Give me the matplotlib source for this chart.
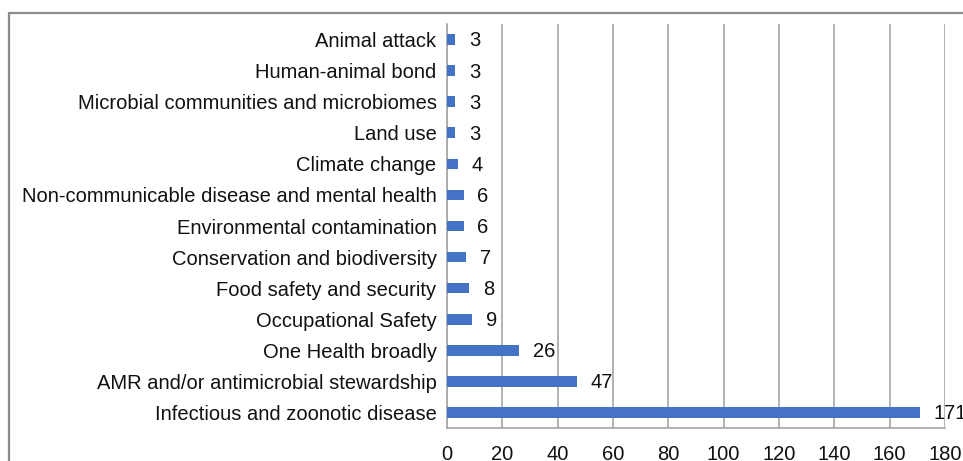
import matplotlib.pyplot as plt
from matplotlib.patches import Rectangle

plt.rcParams['font.family'] = ['Liberation Sans', 'DejaVu Sans']

topics = [
    'Infectious and zoonotic disease',
    'AMR and/or antimicrobial stewardship',
    'One Health broadly',
    'Occupational Safety',
    'Food safety and security',
    'Conservation and biodiversity',
    'Environmental contamination',
    'Non-communicable disease and mental health',
    'Climate change',
    'Land use',
    'Microbial communities and microbiomes',
    'Human-animal bond',
    'Animal attack',
]
counts = [171, 47, 26, 9, 8, 7, 6, 6, 4, 3, 3, 3, 3]
xticks = [0, 20, 40, 60, 80, 100, 120, 140, 160, 180]

W, H = 963, 461
fig = plt.figure(figsize=(W / 100, H / 100), dpi=100)
ax = fig.add_axes([447 / W, 1 - 428 / H, (945 - 447) / W, (428 - 24) / H])

pos = list(range(len(topics)))
ax.barh(pos, counts, height=0.34, color='#4472C4', zorder=3)
for y, v in zip(pos, counts):
    ax.annotate(str(v), (v, y), xytext=(10, -1), textcoords='offset points',
                va='center', ha='left', fontsize=14.5, color='#111111',
                annotation_clip=False)

ax.set_xlim(0, 180)
ax.set_ylim(-0.5, len(topics) - 0.5)
ax.set_xticks(xticks)
ax.set_yticks(pos)
ax.set_yticklabels(topics)
ax.tick_params(axis='both', length=0, labelsize=14.5, colors='#111111')
ax.tick_params(axis='x', pad=12)
ax.tick_params(axis='y', pad=7.5)
ax.xaxis.grid(True, color='#a6a6a6', linewidth=1.2, zorder=0)
for side in ('top', 'right'):
    ax.spines[side].set_visible(False)
for side in ('left', 'bottom'):
    ax.spines[side].set_color('#a6a6a6')
    ax.spines[side].set_linewidth(1.2)

# chart frame
fig.patches.append(Rectangle((9 / W, -0.1), 1.2, 1.1 - 13 / H,
                             transform=fig.transFigure, fill=False,
                             edgecolor='#8c8c8c', linewidth=1.6))

fig.savefig('out.png', dpi=100)
